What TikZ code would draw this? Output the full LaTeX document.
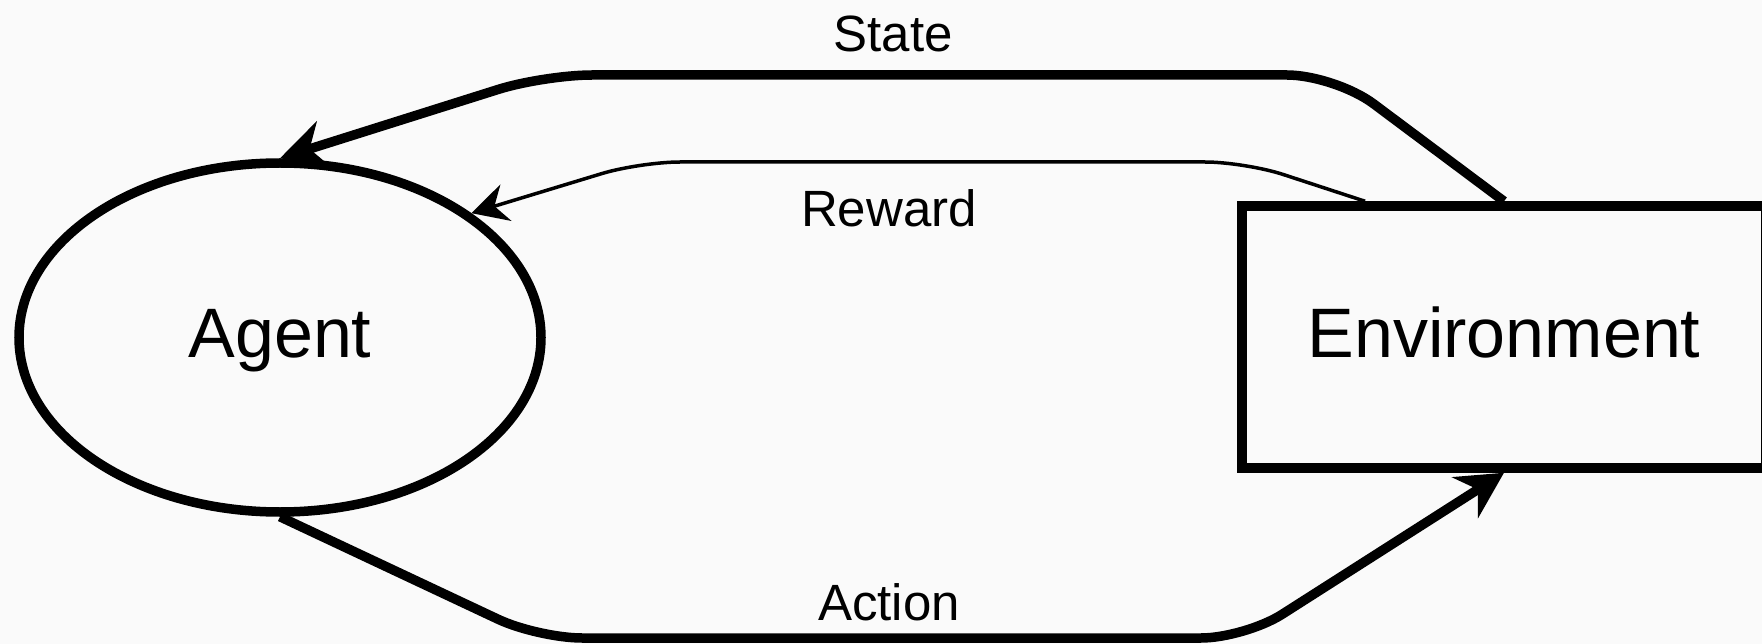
\documentclass[tikz,border=0pt]{standalone}
\usepackage{fontspec}
\setmainfont{Liberation Sans}
\usetikzlibrary{arrows.meta,shapes.geometric}
\definecolor{bgc}{RGB}{250,250,250}
\begin{document}
\begin{tikzpicture}[x=1pt,y=-1pt,
  mainline/.style={line width=9.5pt, draw=black},
  thinline/.style={line width=3.5pt, draw=black},
  bigtip/.style={-{Stealth[length=46pt,width=48pt,inset=15pt]}},
  smalltip/.style={-{Stealth[length=36pt,width=38pt,inset=12pt]}},
  nodetext/.style={font=\fontsize{70}{84}\selectfont, text height=50pt, text depth=10pt, inner sep=0pt},
  lbl/.style={font=\fontsize{51}{61}\selectfont, inner sep=0pt, anchor=base}
]
\fill[bgc] (0,0) rectangle (1762,644);
\clip (0,0) rectangle (1762,644);
\node[ellipse, mainline, fill=bgc, nodetext, minimum width=522pt, minimum height=349pt] (agent) at (280,337.5) {Agent};
\node[rectangle, mainline, fill=bgc, nodetext, minimum width=524pt, minimum height=262pt] (env) at (1504,337) {Environment};
\draw[mainline, bigtip, rounded corners=48pt] (env.north) -- (1335,75) -- (544,75) -- (agent.north);
\draw[thinline, smalltip, rounded corners=40pt] ([xshift=-139pt]env.north) -- (1245,162) -- (640,162) -- (agent.33.5);
\draw[mainline, bigtip, rounded corners=44pt] (agent.south) -- (538,638) -- (1245,638) -- (env.south);
\node[lbl] (state) at (893,52) {State};
\node[lbl] (reward) at (889,227) {Reward};
\node[lbl] (action) at (889,620) {Action};
\end{tikzpicture}
\end{document}
